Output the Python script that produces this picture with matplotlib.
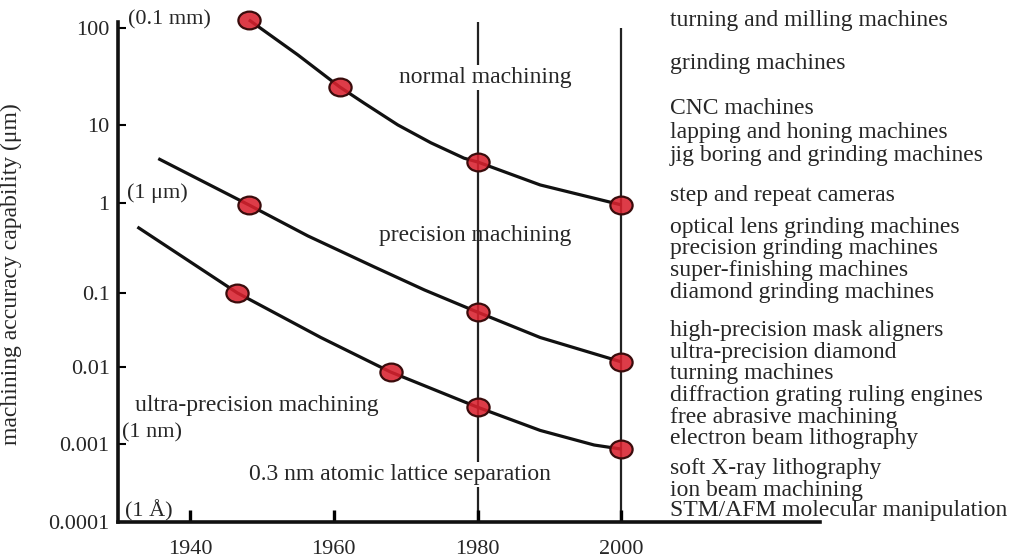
import numpy as np
import matplotlib
matplotlib.use("Agg")
import matplotlib.pyplot as plt
from matplotlib.path import Path
from matplotlib.transforms import Affine2D

plt.rcParams['font.family'] = ['Liberation Serif', 'DejaVu Serif']

# ------------------------------------------
# data (year, accuracy in um)
# ------------------------------------------
normal_curve_years = [1948.2, 1955.0, 1960.8, 1964.2, 1968.9, 1973.5, 1978.1, 1980.0, 1988.7, 2000.0]
normal_curve_acc = [121, 52.7, 24.7, 16.8, 10.0, 5.9, 3.75, 3.35, 1.7, 0.95]
normal_pts_years = [1948.2, 1960.8, 1980.0, 2000.0]
normal_pts_acc = [121, 24.7, 3.35, 0.95]

precision_curve_years = [1935.6, 1948.2, 1956.4, 1965.6, 1972.6, 1980.0, 1988.7, 2000.0]
precision_curve_acc = [3.7, 0.95, 0.43, 0.195, 0.108, 0.055, 0.025, 0.0117]
precision_pts_years = [1948.2, 1980.0, 2000.0]
precision_pts_acc = [0.95, 0.055, 0.0117]

ultra_curve_years = [1932.7, 1946.6, 1958.2, 1967.9, 1980.0, 1988.7, 1996.2, 2000.0]
ultra_curve_acc = [0.54, 0.1, 0.025, 0.0086, 0.0030, 0.0015, 0.00097, 0.00086]
ultra_pts_years = [1946.6, 1967.9, 1980.0, 2000.0]
ultra_pts_acc = [0.1, 0.0086, 0.0030, 0.00086]

year_ticks = [1940, 1960, 1980, 2000]
acc_ticks = [100, 10, 1, 0.1, 0.01, 0.001, 0.0001]
acc_tick_labels = ['100', '10', '1', '0.1', '0.01', '0.001', '0.0001']

machine_labels = [
    'turning and milling machines', 'grinding machines', 'CNC machines',
    'lapping and honing machines', 'jig boring and grinding machines',
    'step and repeat cameras', 'optical lens grinding machines',
    'precision grinding machines', 'super-finishing machines',
    'diamond grinding machines', 'high-precision mask aligners',
    'ultra-precision diamond', 'turning machines',
    'diffraction grating ruling engines', 'free abrasive machining',
    'electron beam lithography', 'soft X-ray lithography',
    'ion beam machining', 'STM/AFM molecular manipulation',
]
machine_label_px = [20, 63, 108, 132, 155, 195, 227, 248, 270, 292,
                    330, 352, 373, 395, 417, 438, 468, 490, 510]

# ------------------------------------------
# hand drawn log axis: decades are not evenly spaced in the original
# ------------------------------------------
DECADES = [-5, -4, -3, -2, -1, 0, 1, 2, 3]
DECADE_POS = [-78, 0, 78, 155, 229, 319, 397, 494, 591]


def fwd(v):
    v = np.clip(np.asarray(v, dtype=float), 1e-12, None)
    return np.interp(np.log10(v), DECADES, DECADE_POS)


def inv(p):
    return 10 ** np.interp(np.asarray(p, dtype=float), DECADE_POS, DECADES)


TXT = '#262626'
RED = (0.85, 0.13, 0.18, 0.88)
ellipse = Path.unit_circle().transformed(Affine2D().scale(1.25, 1.0))

fig = plt.figure(figsize=(10.11, 5.6), dpi=100)
ax = fig.add_axes([118 / 1011, 38 / 560, 702 / 1011, 500 / 560])
ax.set_yscale('function', functions=(fwd, inv))
ax.set_xlim(1930, 2027.6)
ax.set_ylim(0.0001, 115)

# curves + markers
for cy, ca, py, pa in [
    (normal_curve_years, normal_curve_acc, normal_pts_years, normal_pts_acc),
    (precision_curve_years, precision_curve_acc, precision_pts_years, precision_pts_acc),
    (ultra_curve_years, ultra_curve_acc, ultra_pts_years, ultra_pts_acc),
]:
    ax.plot(cy, ca, color='#111111', lw=2.3, zorder=3, clip_on=False,
            solid_capstyle='butt', solid_joinstyle='round')
    ax.plot(py, pa, ls='none', marker=ellipse, ms=16, mfc=RED,
            mec='#3a0c0c', mew=1.6, zorder=4, clip_on=False)

# vertical lines at 1980 and 2000
ax.vlines([1980, 2000], 0.0001, [115, 100], color='#222222', lw=1.6, zorder=1)

# region labels
box = dict(facecolor='white', edgecolor='none', pad=1.5)
ax.text(1981.1, 31, 'normal machining', fontsize=17, color=TXT,
        ha='center', va='center', bbox=box, zorder=2)
ax.text(1979.7, 0.44, 'precision machining', fontsize=17, color=TXT,
        ha='center', va='center', zorder=2)
ax.text(1932.4, 0.0032, 'ultra-precision machining', fontsize=17, color=TXT,
        ha='left', va='center', zorder=2)
ax.text(1969.2, 0.00041, '0.3 nm atomic lattice separation', fontsize=17,
        color=TXT, ha='center', va='center', bbox=box, zorder=2)

# unit hints next to the axis
ax.text(1931.4, 121, '(0.1 mm)', fontsize=16, color=TXT, ha='left', va='center', clip_on=False)
ax.text(1931.2, 1.34, '(1 μm)', fontsize=16, color=TXT, ha='left', va='center')
ax.text(1930.6, 0.0014, '(1 nm)', fontsize=16, color=TXT, ha='left', va='center')
ax.text(1931.0, 0.00014, '(1 Å)', fontsize=16, color=TXT, ha='left', va='center')

# axes styling
for s in ['top', 'right']:
    ax.spines[s].set_visible(False)
for s in ['left', 'bottom']:
    ax.spines[s].set_linewidth(2.6)
    ax.spines[s].set_color('#111111')

ax.set_yticks(acc_ticks)
ax.set_yticklabels(acc_tick_labels)
ax.yaxis.set_minor_locator(matplotlib.ticker.NullLocator())
ax.tick_params(axis='y', direction='in', length=6, width=1.5, pad=6,
               labelsize=16, labelcolor=TXT)

ax.set_xticks(year_ticks)
ax.set_xticklabels([str(y) for y in year_ticks])
ax.tick_params(axis='x', direction='in', length=9, width=2.4, pad=13,
               labelsize=16, labelcolor=TXT)

ax.set_ylabel('machining accuracy capability (μm)', fontsize=17, color=TXT)
ax.yaxis.set_label_coords(-0.137, 0.496)

# machine list on the right
for name, py in zip(machine_labels, machine_label_px):
    fig.text(670 / 1011, 1 - (py + 6) / 560, name, fontsize=17, color=TXT,
             ha='left', va='baseline')

fig.savefig('out.png', dpi=100)
